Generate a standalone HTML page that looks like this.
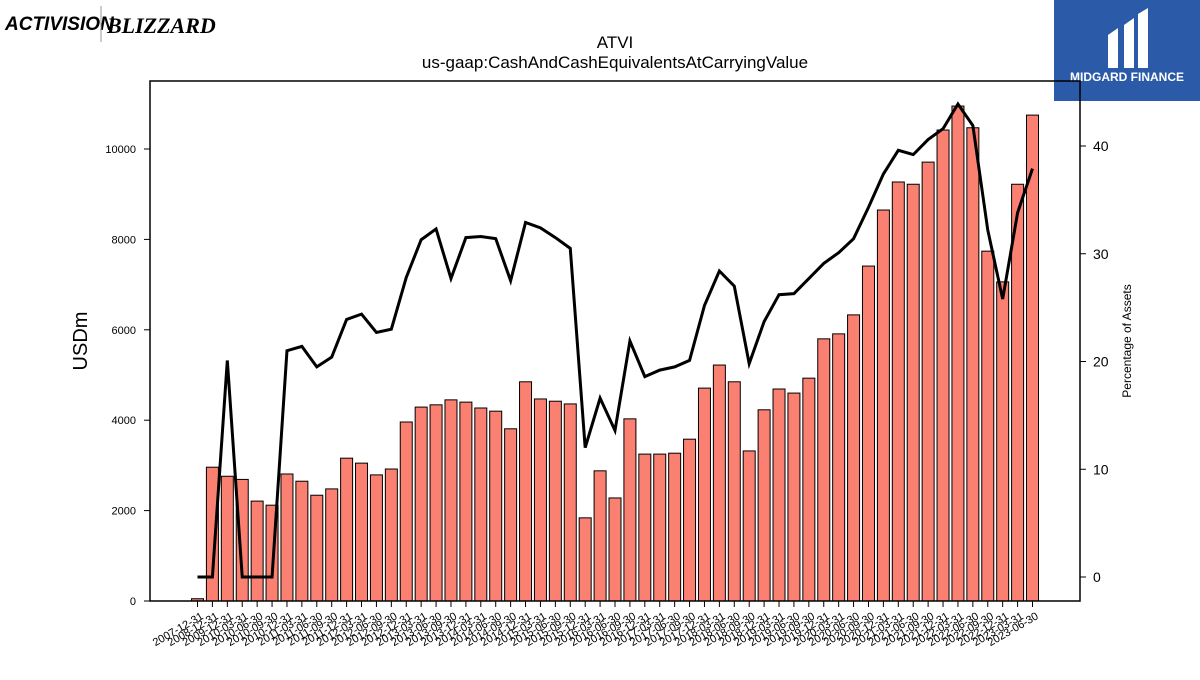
<!DOCTYPE html>
<html><head><meta charset="utf-8"><style>
body{margin:0;background:#fff;width:1200px;height:675px;overflow:hidden;font-family:"Liberation Sans","DejaVu Sans",sans-serif}
</style></head><body>
<svg width="1200" height="675" xmlns="http://www.w3.org/2000/svg" id="chart">
<g>
<text x="5" y="30" font-size="19" font-weight="bold" font-style="italic" font-family="Liberation Sans, sans-serif">ACTIVISION</text>
<line x1="101" y1="6" x2="101" y2="42" stroke="#999" stroke-width="1"/>
<text x="107" y="33" font-size="22" font-weight="bold" font-family="Liberation Serif, serif" font-style="italic">BLIZZARD</text>
</g>
<g>
<rect x="1054" y="0" width="146" height="101" fill="#2b5aa8"/>
<path d="M1108 35 L1118 28 L1118 68 L1108 68 Z M1124 25 L1134 18 L1134 68 L1124 68 Z M1138 14 L1148 8 L1148 68 L1138 68 Z" fill="#fff"/>
<text x="1127" y="81" font-size="12" font-weight="bold" fill="#fff" text-anchor="middle">MIDGARD FINANCE</text>
</g>
<text x="615" y="48" font-size="17" text-anchor="middle">ATVI</text>
<text x="615" y="68" font-size="17" text-anchor="middle">us-gaap:CashAndCashEquivalentsAtCarryingValue</text>
<g id="bars"></g><g id="xticks"></g><g id="yticks"></g><g id="y2ticks"></g>
<path id="pline" fill="none" stroke="#000" stroke-width="3"/>
<rect x="150" y="81" width="930" height="520" fill="none" stroke="#000" stroke-width="1.5"/>
<text transform="translate(87,341) rotate(-90)" font-size="20" text-anchor="middle">USDm</text>
<text transform="translate(1131,341) rotate(-90)" font-size="12" text-anchor="middle">Percentage of Assets</text>
</svg>
<script>
const categories=["2007-12-31","2008-12-31","2009-12-31","2010-03-31","2010-06-30","2010-09-30","2010-12-31","2011-03-31","2011-06-30","2011-09-30","2011-12-31","2012-03-31","2012-06-30","2012-09-30","2012-12-31","2013-03-31","2013-06-30","2013-09-30","2013-12-31","2014-03-31","2014-06-30","2014-09-30","2014-12-31","2015-03-31","2015-06-30","2015-09-30","2015-12-31","2016-03-31","2016-06-30","2016-09-30","2016-12-31","2017-03-31","2017-06-30","2017-09-30","2017-12-31","2018-03-31","2018-06-30","2018-09-30","2018-12-31","2019-03-31","2019-06-30","2019-09-30","2019-12-31","2020-03-31","2020-06-30","2020-09-30","2020-12-31","2021-03-31","2021-06-30","2021-09-30","2021-12-31","2022-03-31","2022-06-30","2022-09-30","2022-12-31","2023-03-31","2023-06-30"];
const cashValues=[50,2960,2760,2690,2210,2120,2810,2650,2340,2480,3160,3050,2790,2920,3960,4290,4340,4450,4400,4270,4200,3810,4850,4470,4420,4360,1840,2880,2280,4030,3250,3250,3270,3580,4710,5220,4850,3320,4230,4690,4600,4930,5800,5910,6330,7410,8650,9270,9220,9710,10420,10950,10470,7740,7060,9220,10750];
const pctValues=[0,0,20.1,0,0,0,21.0,21.4,19.5,20.4,23.9,24.4,22.7,23.0,27.8,31.3,32.3,27.7,31.5,31.6,31.4,27.5,32.9,32.4,31.5,30.5,12.0,16.6,13.6,21.9,18.6,19.2,19.5,20.1,25.2,28.4,27.0,19.8,23.7,26.2,26.3,27.7,29.1,30.1,31.4,34.3,37.4,39.6,39.2,40.6,41.6,43.9,41.9,32.2,25.8,33.8,37.9];
const yTicks=[0,2000,4000,6000,8000,10000];
const y2Ticks=[0,10,20,30,40];
const NS="http://www.w3.org/2000/svg";
const x0=197.5,x1=1032.5;
const xs=i=>x0+(x1-x0)*i/(categories.length-1);
const ys=v=>601-v*0.0452;
const ys2=v=>577-v*10.775;
function mk(t,a,p){const e=document.createElementNS(NS,t);for(const k in a)e.setAttribute(k,a[k]);p.appendChild(e);return e;}
const bars=document.getElementById('bars'),xt=document.getElementById('xticks'),yt=document.getElementById('yticks'),y2t=document.getElementById('y2ticks');
const bw=12;
categories.forEach((c,i)=>{
 const b=mk('rect',{x:xs(i)-bw/2,y:ys(cashValues[i]),width:bw,height:601-ys(cashValues[i]),fill:'#fa8072',stroke:'#000','stroke-width':1},bars);
 
 
 mk('line',{x1:xs(i),y1:601,x2:xs(i),y2:607,stroke:'#000'},xt);
 const t=mk('text',{transform:`translate(${xs(i)+3},612) rotate(-30)`,'font-size':11,'text-anchor':'end','dominant-baseline':'hanging'},xt);
 t.textContent=c;
 
 
});
yTicks.forEach(v=>{
 mk('line',{x1:144,y1:ys(v),x2:150,y2:ys(v),stroke:'#000'},yt);
 const t=mk('text',{x:136,y:ys(v)+4,'font-size':11,'text-anchor':'end'},yt);
 t.textContent=v;
 
 
});
y2Ticks.forEach(v=>{
 mk('line',{x1:1080,y1:ys2(v),x2:1086,y2:ys2(v),stroke:'#000'},y2t);
 const t=mk('text',{x:1093,y:ys2(v)+5,'font-size':14},y2t);
 t.textContent=v;
 
 
});
document.getElementById('pline').setAttribute('d',pctValues.map((v,i)=>(i?'L':'M')+xs(i)+' '+ys2(v)).join(' '));
</script>
</body></html>
